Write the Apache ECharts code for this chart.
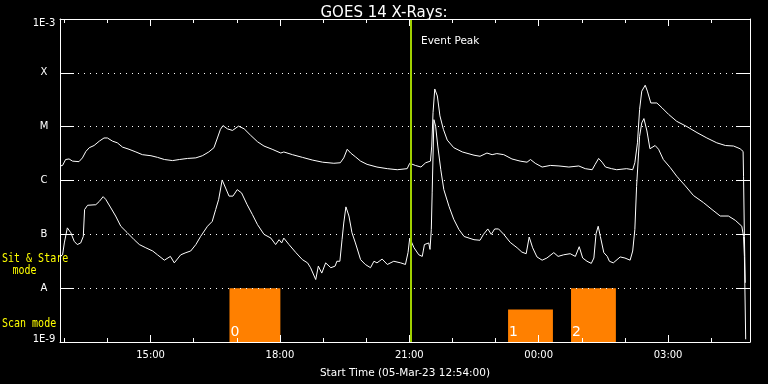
<!DOCTYPE html>
<html><head><meta charset="utf-8">
<script src="https://cdn.jsdelivr.net/npm/echarts@6/dist/echarts.min.js"></script>
<style>html,body{margin:0;padding:0;background:#000;}#c{width:768px;height:384px;}</style>
</head><body><div id="c"></div>
<script>
// Times are decimal hours since 05-Mar-23 00:00 (UT); fluxes are log10(W/m^2)
const longT = [12.90,12.96,13.03,13.11,13.19,13.34,13.42,13.50,13.58,13.69,
  13.81,13.92,14.00,14.12,14.23,14.35,14.50,14.66,14.81,15.01,
  15.16,15.32,15.51,15.67,15.86,16.05,16.20,16.35,16.47,16.55,
  16.62,16.68,16.78,16.90,17.04,17.17,17.32,17.48,17.63,17.82,
  18.02,18.09,18.29,18.52,18.75,18.99,19.25,19.40,19.48,19.56,
  19.64,19.75,19.87,20.02,20.25,20.49,20.72,20.95,21.01,21.14,
  21.27,21.38,21.49,21.52,21.55,21.59,21.65,21.71,21.79,21.88,
  22.03,22.23,22.50,22.64,22.80,22.92,23.03,23.19,23.38,23.57,
  23.73,23.81,23.92,24.08,24.27,24.47,24.70,24.93,25.08,25.24,
  25.31,25.39,25.47,25.55,25.69,25.81,26.04,26.18,26.23,26.29,
  26.34,26.39,26.47,26.52,26.60,26.74,26.86,27.01,27.20,27.44,
  27.67,27.90,28.13,28.33,28.52,28.67,28.74,28.75,28.77,28.79];
const longLog = [-5.73,-5.72,-5.61,-5.60,-5.64,-5.65,-5.58,-5.46,-5.39,-5.35,
  -5.27,-5.21,-5.21,-5.27,-5.30,-5.38,-5.42,-5.47,-5.52,-5.54,
  -5.57,-5.61,-5.63,-5.61,-5.59,-5.58,-5.54,-5.47,-5.39,-5.21,
  -5.05,-4.98,-5.04,-5.07,-4.99,-5.04,-5.16,-5.28,-5.36,-5.42,
  -5.49,-5.47,-5.52,-5.57,-5.62,-5.66,-5.68,-5.67,-5.58,-5.42,
  -5.49,-5.56,-5.64,-5.70,-5.75,-5.78,-5.80,-5.78,-5.68,-5.72,
  -5.75,-5.67,-5.64,-5.36,-4.74,-4.30,-4.43,-4.80,-5.05,-5.25,
  -5.39,-5.47,-5.53,-5.55,-5.49,-5.52,-5.50,-5.52,-5.60,-5.64,
  -5.66,-5.61,-5.68,-5.75,-5.72,-5.73,-5.75,-5.73,-5.78,-5.80,
  -5.70,-5.59,-5.66,-5.75,-5.78,-5.80,-5.78,-5.80,-5.67,-5.30,
  -4.68,-4.34,-4.23,-4.34,-4.56,-4.56,-4.65,-4.77,-4.90,-5.00,
  -5.11,-5.21,-5.30,-5.35,-5.36,-5.41,-5.46,-5.92,-7.04,-7.90];
const shortT = [12.90,12.96,13.00,13.07,13.15,13.23,13.30,13.38,13.44,13.47,
  13.54,13.73,13.81,13.90,13.96,14.08,14.19,14.31,14.46,14.62,
  14.74,14.89,15.05,15.16,15.32,15.46,15.55,15.70,15.82,15.93,
  16.05,16.16,16.32,16.43,16.51,16.58,16.66,16.74,16.82,16.91,
  17.01,17.11,17.24,17.36,17.48,17.63,17.79,17.90,17.98,18.04,
  18.09,18.21,18.37,18.52,18.64,18.71,18.83,18.89,18.97,19.06,
  19.18,19.28,19.32,19.39,19.44,19.48,19.53,19.60,19.67,19.75,
  19.87,19.98,20.10,20.18,20.25,20.37,20.49,20.64,20.80,20.91,
  20.97,21.01,21.11,21.22,21.30,21.35,21.45,21.48,21.51,21.53,
  21.57,21.61,21.66,21.73,21.80,21.92,22.03,22.15,22.27,22.50,
  22.64,22.72,22.82,22.90,22.98,23.07,23.19,23.34,23.50,23.61,
  23.71,23.78,23.86,23.96,24.08,24.19,24.35,24.45,24.58,24.73,
  24.85,24.94,25.02,25.12,25.22,25.28,25.33,25.38,25.43,25.51,
  25.59,25.64,25.73,25.89,26.00,26.12,26.18,26.23,26.27,26.34,
  26.39,26.44,26.51,26.58,26.70,26.78,26.89,27.05,27.20,27.40,
  27.59,27.82,28.02,28.21,28.40,28.56,28.71,28.75,28.77,28.80];
const shortLog = [-7.41,-7.38,-7.16,-6.88,-6.97,-7.13,-7.19,-7.16,-7.04,-6.54,
  -6.46,-6.45,-6.39,-6.30,-6.35,-6.51,-6.66,-6.85,-6.97,-7.10,
  -7.19,-7.25,-7.31,-7.38,-7.48,-7.41,-7.53,-7.38,-7.34,-7.31,
  -7.19,-7.04,-6.85,-6.76,-6.54,-6.35,-5.99,-6.14,-6.29,-6.29,
  -6.17,-6.23,-6.45,-6.63,-6.82,-7.00,-7.07,-7.19,-7.10,-7.16,
  -7.07,-7.19,-7.34,-7.47,-7.53,-7.62,-7.84,-7.59,-7.72,-7.53,
  -7.62,-7.59,-7.50,-7.50,-7.10,-6.79,-6.49,-6.66,-6.97,-7.16,
  -7.47,-7.56,-7.62,-7.50,-7.53,-7.46,-7.56,-7.50,-7.53,-7.56,
  -7.34,-7.07,-7.25,-7.38,-7.41,-7.19,-7.16,-7.28,-6.91,-6.23,
  -4.87,-4.99,-5.36,-5.80,-6.17,-6.48,-6.72,-6.91,-7.04,-7.10,
  -7.11,-7.00,-6.90,-7.00,-6.90,-6.90,-7.00,-7.15,-7.25,-7.33,
  -7.36,-7.05,-7.25,-7.42,-7.48,-7.44,-7.34,-7.41,-7.38,-7.36,
  -7.41,-7.23,-7.44,-7.50,-7.54,-7.44,-6.99,-6.85,-7.04,-7.34,
  -7.41,-7.50,-7.53,-7.42,-7.44,-7.48,-7.31,-6.91,-6.11,-5.18,
  -4.93,-4.85,-5.08,-5.41,-5.35,-5.42,-5.61,-5.76,-5.92,-6.10,
  -6.28,-6.41,-6.54,-6.66,-6.66,-6.74,-6.85,-7.04,-7.41,-8.95];

// Scan-mode periods (orange blocks)
const scanStart = [16.83, 23.29, 24.75];
const scanEnd   = [18.01, 24.33, 25.79];
const scanTop   = [1e-8, 4e-9, 1e-8];
const scanLabels = ['0', '1', '2'];

const eventPeakH = 21.03;
const xStart = 12.9, xEnd = 28.9;
const xMajor = [15, 18, 21, 24, 27];
const xMinor = [13, 14, 16, 17, 19, 20, 22, 23, 25, 26, 28];
const yLabels = ['1E-9', 'A', 'B', 'C', 'M', 'X', '1E-3'];

const FONT = 'DejaVu Sans';
const toPairs = (t, l) => t.map((h, i) => [h, Math.pow(10, l[i])]);
const fmtHour = v => String(Math.round(v) % 24).padStart(2, '0') + ':00';
const yFmt = v => {
  const e = Math.round(Math.log10(v));
  const s = yLabels[e + 9];
  if (e === -3) return '{t|' + s + '}';
  if (e === -9) return '{b|' + s + '}';
  return s;
};
const lblStyle = {color: '#fff', fontSize: 10, fontFamily: FONT};

const chart = echarts.init(document.getElementById('c'), null, {renderer: 'canvas'});

function xAx(pos, vals, len, withLine) {
  return {
    type: 'value', min: xStart, max: xEnd, position: pos, z: 5,
    axisLine: {show: withLine, onZero: false, lineStyle: {color: '#fff', width: 1}},
    axisTick: {show: true, inside: true, length: len, customValues: vals, lineStyle: {color: '#fff', width: 1}},
    axisLabel: {show: false},
    splitLine: {show: false}
  };
}

const xMain = xAx('bottom', xMajor, 7, true);
xMain.axisLabel = Object.assign({show: true, customValues: xMajor, formatter: fmtHour, margin: 8}, lblStyle);
xMain.name = 'Start Time (05-Mar-23 12:54:00)';
xMain.nameLocation = 'middle';
xMain.nameGap = 26;
xMain.nameTextStyle = {color: '#fff', fontSize: 10.5, fontFamily: FONT};

const option = {
  backgroundColor: '#000',
  animation: false,
  title: {text: 'GOES 14 X-Rays:', left: 'center', top: 1,
    textStyle: {color: '#fff', fontSize: 15, fontWeight: 'normal', fontFamily: FONT}},
  grid: {left: 60, right: 18, top: 19, bottom: 41},
  xAxis: [
    xMain,
    xAx('bottom', xMinor, 4, false),
    xAx('top', xMajor, 7, true),
    xAx('top', xMinor, 4, false)
  ],
  yAxis: [
    {type: 'log', logBase: 10, min: 1e-9, max: 1e-3, splitNumber: 6, position: 'left', z: 5,
     axisLine: {show: true, lineStyle: {color: '#fff', width: 1}},
     axisTick: {show: true, inside: true, length: 14, lineStyle: {color: '#fff', width: 1}},
     minorTick: {show: false},
     axisLabel: Object.assign({formatter: yFmt, align: 'center', margin: 16,
       rich: {t: Object.assign({padding: [9, 0, 0, 0]}, lblStyle), b: Object.assign({padding: [0, 0, 6, 0]}, lblStyle)}}, lblStyle),
     splitLine: {show: true, lineStyle: {color: '#fff', width: 1, type: [1, 5]}}},
    {type: 'log', logBase: 10, min: 1e-9, max: 1e-3, splitNumber: 6, position: 'right', z: 5,
     axisLine: {show: true, lineStyle: {color: '#fff', width: 1}},
     axisTick: {show: true, inside: true, length: 14, lineStyle: {color: '#fff', width: 1}},
     minorTick: {show: false},
     axisLabel: {show: false},
     splitLine: {show: false}}
  ],
  series: [
    {type: 'custom', xAxisIndex: 0, yAxisIndex: 0, z: 1, silent: true,
     data: scanStart.map((s, i) => [s, scanEnd[i], scanTop[i]]),
     encode: {x: [0, 1], y: 2},
     renderItem: (params, api) => {
       const p0 = api.coord([api.value(0), api.value(2)]);
       const p1 = api.coord([api.value(1), 1e-9]);
       return {type: 'group', children: [
         {type: 'rect', shape: {x: p0[0], y: p0[1], width: p1[0] - p0[0], height: p1[1] - p0[1]},
          style: {fill: '#ff8000'}},
         {type: 'text', x: p0[0] + 1, y: p1[1] - 3,
          style: {text: scanLabels[params.dataIndex], fill: '#fff', font: '14px "DejaVu Sans"', verticalAlign: 'bottom', align: 'left'}}
       ]};
     }},
    {type: 'line', name: 'long', xAxisIndex: 0, yAxisIndex: 0, z: 3, silent: true,
     showSymbol: false, data: toPairs(longT, longLog),
     lineStyle: {color: '#fff', width: 1},
     markLine: {silent: true, symbol: ['none', 'none'], label: {show: false},
       lineStyle: {color: '#a0d000', width: 2, type: 'solid'},
       data: [{xAxis: eventPeakH}]}},
    {type: 'line', name: 'short', xAxisIndex: 0, yAxisIndex: 0, z: 3, silent: true,
     showSymbol: false, data: toPairs(shortT, shortLog),
     lineStyle: {color: '#fff', width: 1}}
  ],
  graphic: [
    {type: 'text', left: 421, top: 36, style: {text: 'Event Peak', fill: '#fff', font: '10.5px "DejaVu Sans"'}},
    {type: 'text', x: 2, y: 258.5, scaleY: 1.3, style: {text: 'Sit & Stare', fill: '#ffff00', font: '10px "DejaVu Sans Mono"', verticalAlign: 'middle', align: 'left'}},
    {type: 'text', x: 24.5, y: 270.5, scaleY: 1.3, style: {text: 'mode', fill: '#ffff00', font: '10px "DejaVu Sans Mono"', verticalAlign: 'middle', align: 'center'}},
    {type: 'text', x: 2, y: 323.7, scaleY: 1.3, style: {text: 'Scan mode', fill: '#ffff00', font: '10px "DejaVu Sans Mono"', verticalAlign: 'middle', align: 'left'}}
  ]
};
chart.setOption(option);
</script>
</body></html>
